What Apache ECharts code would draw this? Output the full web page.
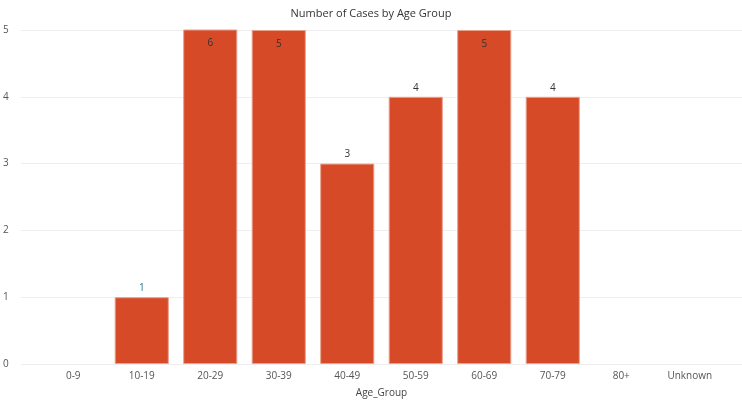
<!DOCTYPE html>
<html><head><meta charset="utf-8">
<script src="https://cdn.jsdelivr.net/npm/echarts@6/dist/echarts.min.js"></script>
<style>html,body{margin:0;padding:0;background:#fff}#c{width:742px;height:405px}</style>
</head><body><div id="c"></div>
<script>
const categories = ['0-9','10-19','20-29','30-39','40-49','50-59','60-69','70-79','80+','Unknown'];
const cases = [0,1,6,5,3,4,5,4,0,0];
const yTicks = [0,1,2,3,4,5];
const yMax = 5;
const font = '"Open Sans", "Noto Sans", sans-serif';

const barData = cases.map((v, i) => {
  const item = { value: v };
  if (v === 0) { item.label = { show: false }; item.itemStyle = { borderWidth: 0, opacity: 0 }; }
  else if (v >= yMax) item.label = { position: 'insideTop', distance: 9 };
  if (categories[i] === '10-19') item.label = { color: '#1b7a8a' };
  return item;
});

const chart = echarts.init(document.getElementById('c'), null, { renderer: 'canvas' });
chart.setOption({
  animation: false,
  textStyle: { fontFamily: font },
  title: {
    text: 'Number of Cases by Age Group', left: 'center', top: 3,
    textStyle: { fontFamily: font, fontSize: 11, fontWeight: 'normal', color: '#333' }
  },
  grid: [
    { left: 20, right: 0, top: 30, bottom: 41 },
    { left: 39, right: 18, top: 30, bottom: 41 }
  ],
  xAxis: [
    { gridIndex: 0, type: 'category', data: categories, show: false },
    { gridIndex: 1, type: 'category', data: categories,
      axisLine: { show: false }, axisTick: { show: false },
      axisLabel: { color: '#555', fontSize: 10, margin: 7, fontFamily: font },
      name: 'Age_Group', nameLocation: 'middle', nameGap: 24,
      nameTextStyle: { color: '#444', fontSize: 10, fontFamily: font } }
  ],
  yAxis: [
    { gridIndex: 0, type: 'value', min: 0, max: yMax, interval: 1,
      axisLine: { show: false }, axisTick: { show: false },
      axisLabel: { color: '#555', fontSize: 10, margin: 12, fontFamily: font,
        formatter: v => yTicks.includes(v) ? String(v) : '' },
      splitLine: { lineStyle: { color: '#eeeeee', width: 1 } } },
    { gridIndex: 1, type: 'value', min: 0, max: yMax, interval: 1, show: false,
      splitLine: { show: false } }
  ],
  series: [{
    type: 'bar', xAxisIndex: 1, yAxisIndex: 1,
    data: barData, barCategoryGap: '21%', clip: true,
    itemStyle: { color: '#d64a28', borderColor: '#e9a08c', borderWidth: 1 },
    label: { show: true, position: 'top', distance: 4, color: '#333', fontSize: 10, fontFamily: font }
  }]
});
</script></body></html>
